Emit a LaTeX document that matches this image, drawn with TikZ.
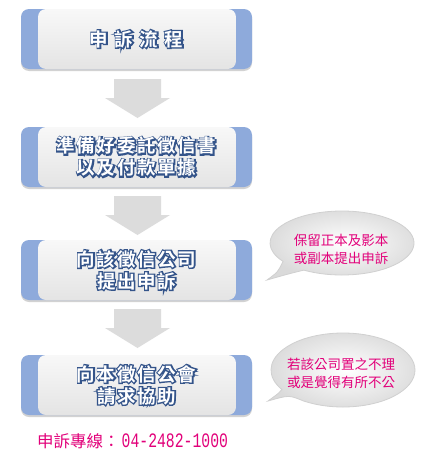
\documentclass[tikz,border=0pt]{standalone}
\usepackage{fontspec}
\usetikzlibrary{shadows,calc}
\newfontfamily\boxfill[LetterSpace=9]{Noto Sans CJK TC Bold}
\newfontfamily\boxstroke[LetterSpace=9,FakeBold=14]{Noto Sans CJK TC Bold}
\newfontfamily\boxfillwide[LetterSpace=35]{Noto Sans CJK TC Bold}
\newfontfamily\boxstrokewide[LetterSpace=35,FakeBold=14]{Noto Sans CJK TC Bold}
\newfontfamily\cjk{Noto Sans CJK TC}
\newfontfamily\phonemono[FakeStretch=0.72]{Liberation Mono}
\definecolor{capblue}{HTML}{8EAADB}
\definecolor{txtblue}{HTML}{34548A}
\definecolor{boxtop}{HTML}{F8F8F8}
\definecolor{boxbot}{HTML}{E4E4E4}
\definecolor{arrowgray}{HTML}{DCDCDC}
\definecolor{pinktxt}{HTML}{E2007A}
\definecolor{bubbleline}{HTML}{D0D0D0}
\definecolor{bubblerim}{HTML}{DADADA}
\newcommand\strokefam{\boxstroke}
\newcommand\fillfam{\boxfill}
\newcommand\ctxt[1]{\rlap{\strokefam\color{txtblue}#1}{\fillfam\color{white}#1}}
\tikzset{
  flowbox/.style={minimum width=231pt, minimum height=60pt, inner sep=0pt,
    rounded corners=8pt, fill=capblue, align=center,
    font=\boxfill\fontsize{18.5}{22}\selectfont,
    drop shadow={shadow xshift=0pt, shadow yshift=-2pt, opacity=.25, fill=black!70},
    path picture={\shade[top color=boxtop, bottom color=boxbot]
      ($(path picture bounding box.north west)+(17pt,0pt)$) rectangle
      ($(path picture bounding box.south east)+(-16pt,0pt)$);}},
  downarrow/.pic={\fill[arrowgray] (-23.5,0) -- (23.5,0) -- (23.5,19) -- (32.5,19)
      -- (0,39) -- (-32.5,19) -- (-23.5,19) -- cycle;},
  bubble/.style={draw=bubbleline, line width=0.8pt, inner color=white, outer color=bubblerim},
  bubbletext/.style={text=pinktxt, align=center, inner sep=0pt,
    font=\cjk\fontsize{13.5}{18}\selectfont}
}
\begin{document}
\begin{tikzpicture}[x=1pt, y=-1pt]
\useasboundingbox (0,0) rectangle (422,458);
\fill[white] (0,0) rectangle (422,458);

% arrows between boxes
\pic at (137.5,79) {downarrow};
\pic at (137.5,196) {downarrow};
\pic at (137.5,309) {downarrow};

% boxes
\node[flowbox] (b1) at (136.5,39) {\renewcommand\strokefam{\boxstrokewide}\renewcommand\fillfam{\boxfillwide}\ctxt{申訴流程}};
\node[flowbox] (b2) at (136.5,157) {\ctxt{準備好委託徵信書}\\\ctxt{以及付款單據}};
\node[flowbox] (b3) at (136.5,270) {\ctxt{向該徵信公司}\\\ctxt{提出申訴}};
\node[flowbox] (b4) at (136.5,385) {\ctxt{向本徵信公會}\\\ctxt{請求協助}};

% speech bubbles
\coordinate (c1) at (342,243);
\coordinate (t1) at (267,280);
\draw[bubble] ($(c1)+(145:72 and 32)$) .. controls (278,272) .. (t1)
   .. controls (288,274) .. ($(c1)+(122:72 and 32)$)
   arc[start angle=122, end angle=-215, x radius=72, y radius=32] -- cycle;
\node[bubbletext] (s1) at (341,249) {保留正本及影本\\或副本提出申訴};

\coordinate (c2) at (343,370);
\coordinate (t2) at (268,401);
\draw[bubble] ($(c2)+(148:72 and 37)$) .. controls (279,393) .. (t2)
   .. controls (289,395) .. ($(c2)+(124:72 and 37)$)
   arc[start angle=124, end angle=-212, x radius=72, y radius=37] -- cycle;
\node[bubbletext] (s2) at (341,373) {若該公司置之不理\\或是覺得有所不公};

% hotline
\node[anchor=west, inner sep=0pt, text=pinktxt] (phone) at (37,441)
  {\cjk\fontsize{16.5}{18}\selectfont 申訴專線：\hspace{2pt}\phonemono\fontsize{20.5}{18}\selectfont 04-2482-1000};
\end{tikzpicture}
\end{document}
